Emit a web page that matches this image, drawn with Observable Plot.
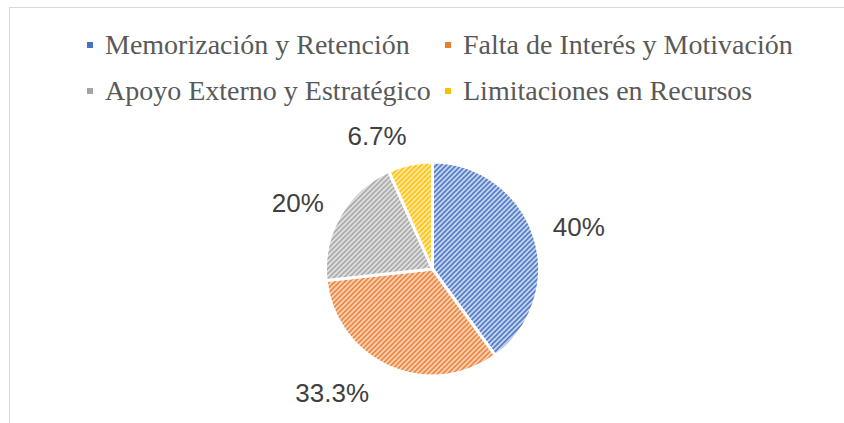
<!DOCTYPE html>
<html><head><meta charset="utf-8">
<script src="https://cdn.jsdelivr.net/npm/d3@7"></script>
<script src="https://cdn.jsdelivr.net/npm/@observablehq/plot@0.6"></script>
<style>
html,body{margin:0;padding:0;background:#fff;overflow:hidden;width:844px;height:423px;}
#wrap{position:relative;width:844px;height:423px;overflow:hidden;}
#frame{position:absolute;left:9px;top:7px;width:900px;height:500px;border:1px solid #d9d9d9;box-sizing:border-box;}
#legend{position:absolute;left:87px;top:22px;width:740px;display:grid;grid-template-columns:358px 358px;grid-auto-rows:46px;}
#legend .item{display:flex;align-items:center;white-space:nowrap;}
#legend .sw{width:6px;height:6px;margin-right:12px;flex:none;}
#chart{position:absolute;left:0;top:115px;}
</style>
</head><body>
<div id="wrap"><div id="frame"></div><div id="legend" style="font-family:'Liberation Serif';font-size:28px;color:#595959"></div><div id="chart"></div></div>
<script>
const categories = ["Memorización y Retención","Falta de Interés y Motivación","Apoyo Externo y Estratégico","Limitaciones en Recursos"];
const values = [40, 33.3, 20, 6.7];
const labels = ["40%","33.3%","20%","6.7%"];
const colors = ["#4472C4","#ED7D31","#A5A5A5","#FFC000"];
const tints = ["#d3ddf2","#fbd9c1","#e4e4e4","#ffeab0"];

const data = categories.map((c,i)=>({category:c, value:values[i], label:labels[i], i}));

const W = 844, H = 308, cx = 432.5, cy = 154, r = 107, R = 126;
const arcs = d3.pie().sort(null).value(d=>d.value)(data);
const arc = d3.arc().innerRadius(0).outerRadius(r);

const cvs = document.createElement("canvas").getContext("2d");
const fontSize = 26;
cvs.font = `${fontSize}px "Liberation Sans"`;
const capH = 0.716*fontSize;
const labelData = arcs.map(a=>{
  const t = (a.startAngle+a.endAngle)/2, s = Math.sin(t), c = Math.cos(t);
  const px = cx + R*s, py = cy - R*c;
  const w = cvs.measureText(a.data.label).width;
  let x = px, y = py;
  if (s > 0.3) x = px + w/2; else if (s < -0.1) x = px - w/2 - 14*Math.max(0,-c);
  if (c > 0.6) y = py - capH/2; else if (c < -0.6) y = py + capH/2;
  else y = py - 3;
  return {x, y, label:a.data.label};
});

function pieMark(index, scales, vals, dimensions, context) {
  const g = d3.create("svg:g");
  const defs = g.append("defs");
  data.forEach((d,i)=>{
    const p = defs.append("pattern").attr("id","pat"+i).attr("patternUnits","userSpaceOnUse").attr("width",5).attr("height",5);
    p.append("rect").attr("width",5).attr("height",5).attr("fill",tints[i]);
    p.append("path").attr("d","M-1,1L1,-1M0,5L5,0M4,6L6,4").attr("stroke",colors[i]).attr("stroke-width",1.6);
  });
  g.selectAll("path.slice").data(arcs).join("path").attr("class","slice")
    .attr("transform",`translate(${cx},${cy})`)
    .attr("d",arc).attr("fill",(d,i)=>`url(#pat${i})`)
    .attr("stroke","white").attr("stroke-width",3).attr("stroke-linejoin","round");
  return g.node();
}

// legend
const lg = d3.select("#legend");
const items = lg.selectAll("div.item").data(data).join("div").attr("class","item")
  .style("font-family","'Liberation Serif', serif").style("font-size","28px").style("color","#595959");
items.append("div").attr("class","sw").style("background",d=>colors[d.i]);
items.append("span").text(d=>d.category);

const chart = Plot.plot({
  width:W, height:H, margin:0,
  x:{type:"identity", axis:null}, y:{type:"identity", axis:null},
  marks:[
    pieMark,
    Plot.text(labelData, {x:"x", y:"y", text:"label", textAnchor:"middle", lineAnchor:"middle",
      fontSize:fontSize, fontFamily:"Liberation Sans, Arial, sans-serif", fill:"#404040"})
  ]
});
document.getElementById("chart").appendChild(chart);
</script>
</body></html>
